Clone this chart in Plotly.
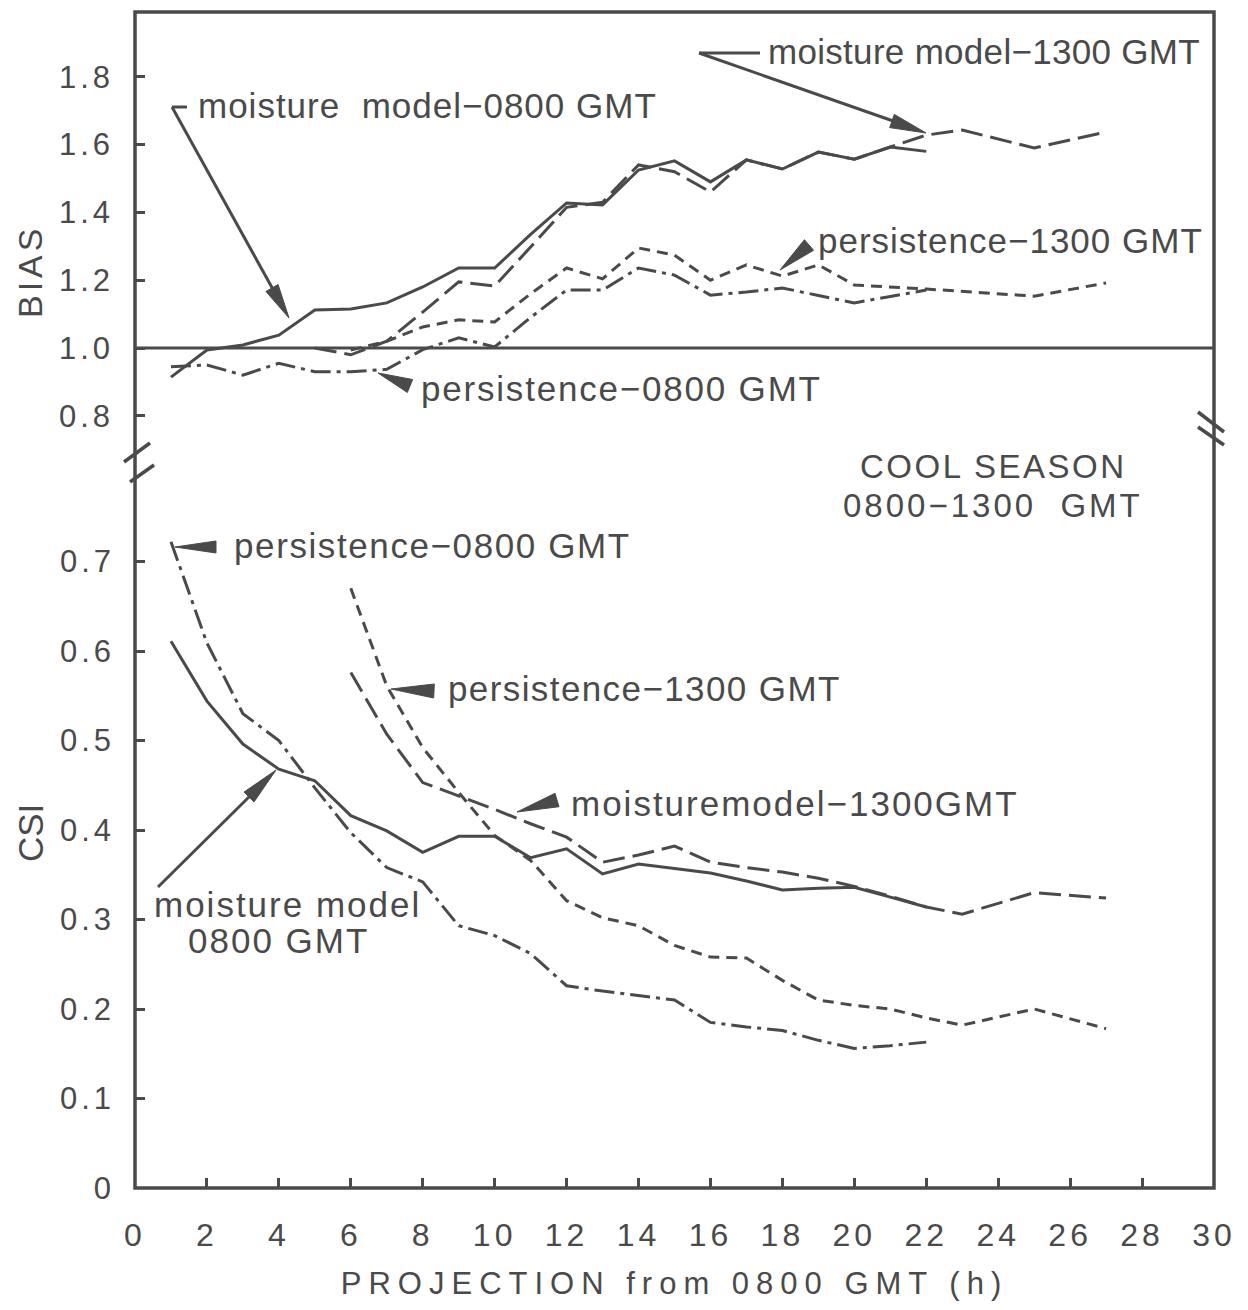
import math
import plotly.graph_objects as go

# ---------------- data ----------------
# BIAS panel
bias_hours_mm08 = list(range(1, 23))
bias_mm08 = [0.914, 0.994, 1.009, 1.038, 1.112, 1.115, 1.133, 1.180, 1.236, 1.236, 1.335,
             1.428, 1.422, 1.525, 1.552, 1.490, 1.555, 1.528, 1.578, 1.557, 1.593, 1.580]

bias_hours_mm13 = list(range(5, 24)) + [25, 27]
bias_mm13 = [1.000, 0.980, 1.020, 1.106, 1.195, 1.183, 1.298, 1.415, 1.430, 1.540, 1.520,
             1.460, 1.555, 1.528, 1.578, 1.557, 1.593, 1.628, 1.643, 1.590, 1.637]

bias_hours_p13 = list(range(6, 23)) + [25, 27]
bias_p13 = [0.994, 1.020, 1.062, 1.083, 1.077, 1.160, 1.236, 1.204, 1.295, 1.274, 1.200,
            1.245, 1.212, 1.245, 1.186, 1.180, 1.174, 1.153, 1.192]

bias_hours_p08 = list(range(1, 23))
bias_p08 = [0.945, 0.950, 0.920, 0.955, 0.930, 0.930, 0.937, 0.995, 1.030, 1.003, 1.090,
            1.171, 1.171, 1.236, 1.215, 1.156, 1.165, 1.177, 1.155, 1.133, 1.152, 1.171]

# CSI panel
csi_hours_mm08 = list(range(1, 23))
csi_mm08 = [0.611, 0.544, 0.496, 0.468, 0.455, 0.416, 0.399, 0.375, 0.393, 0.393, 0.369,
            0.379, 0.351, 0.362, 0.357, 0.352, 0.343, 0.333, 0.335, 0.336, 0.325, 0.314]

csi_hours_mm13 = list(range(6, 24)) + [25, 27]
csi_mm13 = [0.576, 0.507, 0.453, 0.438, 0.423, 0.407, 0.392, 0.364, 0.372, 0.382, 0.364,
            0.358, 0.353, 0.346, 0.337, 0.326, 0.314, 0.306, 0.330, 0.324]

csi_hours_p13 = list(range(6, 24)) + [25, 27]
csi_p13 = [0.670, 0.561, 0.492, 0.442, 0.394, 0.366, 0.321, 0.302, 0.293, 0.271, 0.258,
           0.257, 0.232, 0.210, 0.204, 0.200, 0.190, 0.182, 0.200, 0.178]

csi_hours_p08 = list(range(1, 23))
csi_p08 = [0.722, 0.609, 0.530, 0.500, 0.447, 0.397, 0.358, 0.342, 0.293, 0.282, 0.262,
           0.226, 0.220, 0.215, 0.210, 0.185, 0.180, 0.176, 0.165, 0.156, 0.159, 0.163]

x_ticks = list(range(0, 31, 2))
csi_ticks = [0, 0.1, 0.2, 0.3, 0.4, 0.5, 0.6, 0.7]
csi_ticklabels = ["0", "0.1", "0.2", "0.3", "0.4", "0.5", "0.6", "0.7"]
bias_ticks = [0.8, 1.0, 1.2, 1.4, 1.6, 1.8]
bias_ticklabels = ["0.8", "1.0", "1.2", "1.4", "1.6", "1.8"]

# ---------------- style / geometry ----------------
W, H = 1248, 1310
L, R, T, B = 135, 1214, 12, 1188      # plot box in pixels
SPLIT = 440                            # pixel row where the two panels meet
INK = "#4a4a4a"
FONT = "Liberation Sans, Arial, sans-serif"
LW = 3

split_frac = (B - SPLIT) / (B - T)


def P(px, py):
    """pixel -> paper coordinates (for decorations only)"""
    return (px - L) / (R - L), (B - py) / (B - T)


def sp(txt, ls):
    return f'<span style="letter-spacing:{ls}px">{txt}</span>'


fig = go.Figure()

styles = {
    "mm08": dict(color=INK, width=LW, dash="solid"),
    "mm13": dict(color=INK, width=LW, dash="22px,8px"),
    "p13": dict(color=INK, width=LW, dash="11px,7px"),
    "p08": dict(color=INK, width=LW, dash="20px,6px,4px,6px"),
}

for xs, ys, key, name in [
    (bias_hours_mm08, bias_mm08, "mm08", "moisture model-0800 GMT"),
    (bias_hours_mm13, bias_mm13, "mm13", "moisture model-1300 GMT"),
    (bias_hours_p13, bias_p13, "p13", "persistence-1300 GMT"),
    (bias_hours_p08, bias_p08, "p08", "persistence-0800 GMT"),
]:
    fig.add_trace(go.Scatter(x=xs, y=ys, mode="lines", line=styles[key], name=name,
                             xaxis="x", yaxis="y2", showlegend=False))

for xs, ys, key, name in [
    (csi_hours_mm08, csi_mm08, "mm08", "moisture model 0800 GMT"),
    (csi_hours_mm13, csi_mm13, "mm13", "moisture model-1300 GMT"),
    (csi_hours_p13, csi_p13, "p13", "persistence-1300 GMT"),
    (csi_hours_p08, csi_p08, "p08", "persistence-0800 GMT"),
]:
    fig.add_trace(go.Scatter(x=xs, y=ys, mode="lines", line=styles[key], name=name,
                             xaxis="x", yaxis="y", showlegend=False))

# axis ranges mapped from the reference pixel scale
csi_px_per_unit = 895.0
bias_px_per_unit = 339.0
bias_one_px = 348
csi_range = [0, (B - SPLIT) / csi_px_per_unit]
bias_range = [1 - (SPLIT - bias_one_px) / bias_px_per_unit,
              1 + (bias_one_px - T) / bias_px_per_unit]

tickfont = dict(family=FONT, size=31, color=INK)

fig.update_layout(
    width=W, height=H,
    margin=dict(l=L, r=W - R, t=T, b=H - B, autoexpand=False),
    paper_bgcolor="white", plot_bgcolor="white",
    font=dict(family=FONT, color=INK),
    xaxis=dict(
        domain=[0, 1], range=[0, 30], anchor="y",
        tickmode="array", tickvals=x_ticks,
        ticktext=[sp(str(v), 4) for v in x_ticks],
        ticks="inside", ticklen=10, tickwidth=3, tickcolor=INK,
        showgrid=False, zeroline=False, showline=False,
        tickfont=dict(family=FONT, size=32, color=INK),
        ticklabelstandoff=25,
        title=dict(text=sp("PROJECTION from 0800 GMT (h)", 7),
                   font=dict(family=FONT, size=31, color=INK), standoff=20),
    ),
    yaxis=dict(
        domain=[0, split_frac], range=csi_range, anchor="x",
        tickmode="array", tickvals=csi_ticks,
        ticktext=[sp(t, 4) for t in csi_ticklabels],
        ticks="inside", ticklen=10, tickwidth=3, tickcolor=INK,
        showgrid=False, zeroline=False, showline=False,
        tickfont=tickfont, ticklabelstandoff=19,
    ),
    yaxis2=dict(
        domain=[split_frac, 1], range=bias_range, anchor="x",
        tickmode="array", tickvals=bias_ticks,
        ticktext=[sp(t, 4) for t in bias_ticklabels],
        ticks="inside", ticklen=10, tickwidth=3, tickcolor=INK,
        showgrid=False, zeroline=False, showline=False,
        tickfont=tickfont, ticklabelstandoff=20,
    ),
)

shapes = []
# frame
shapes.append(dict(type="rect", xref="paper", yref="paper", x0=0, x1=1, y0=0, y1=1,
                   line=dict(color=INK, width=3.5), layer="above"))
# BIAS = 1.0 reference line
shapes.append(dict(type="line", xref="paper", yref="y2", x0=0, x1=1, y0=1.0, y1=1.0,
                   line=dict(color=INK, width=3)))


def seg(p0, p1, w=3):
    a = P(*p0)
    b = P(*p1)
    shapes.append(dict(type="line", xref="paper", yref="paper", x0=a[0], y0=a[1],
                       x1=b[0], y1=b[1], line=dict(color=INK, width=w), layer="above"))


def wedge(tip, base, hw=7):
    tx, ty = tip
    bx, by = base
    dx, dy = tx - bx, ty - by
    ln = math.hypot(dx, dy)
    nx, ny = -dy / ln, dx / ln
    pts = [(tx, ty), (bx + nx * hw, by + ny * hw), (bx - nx * hw, by - ny * hw)]
    pp = [P(*q) for q in pts]
    path = "M {:.5f},{:.5f} L {:.5f},{:.5f} L {:.5f},{:.5f} Z".format(
        pp[0][0], pp[0][1], pp[1][0], pp[1][1], pp[2][0], pp[2][1])
    shapes.append(dict(type="path", xref="paper", yref="paper", path=path,
                       fillcolor=INK, line=dict(color=INK, width=1), layer="above"))


# --- top panel pointers ---
seg((172, 107), (187, 107))
seg((172, 107), (280, 302))
wedge((289, 318), (272, 288))

seg((699, 53), (760, 53))
seg((699, 53), (896, 122))
wedge((926, 133), (892, 121))

wedge((780, 270), (809, 245))
wedge((378, 373), (410, 386))

# --- bottom panel pointers ---
wedge((175, 547), (216, 547), hw=6)
wedge((391, 689), (434, 691))
wedge((517, 812), (557, 800))
seg((158, 887), (252, 794))
wedge((276, 770), (249, 797))

# axis-break marks
seg((124, 462), (150, 443), w=3.5)
seg((130, 482), (154, 465), w=3.5)
seg((1198, 412), (1224, 432), w=3.5)
seg((1198, 427), (1224, 445), w=3.5)

fig.update_layout(shapes=shapes)

ann = []


def label(text, px, py, size=35, xanchor="left", angle=0, ls=0):
    x, y = P(px, py)
    if ls:
        text = sp(text, ls)
    ann.append(dict(text=text, x=x, y=y, xref="paper", yref="paper", showarrow=False,
                    xanchor=xanchor, yanchor="middle", textangle=angle,
                    font=dict(family=FONT, size=size, color=INK)))


label("moisture\u00a0 model\u22120800 GMT", 196, 105, ls=1)
label("moisture model\u22121300 GMT", 766, 51, ls=0.3)
label("persistence\u22121300 GMT", 816, 240, ls=1)
label("persistence\u22120800 GMT", 419, 388, ls=1.8)
label("COOL SEASON", 993, 467, size=33, xanchor="center", ls=2.5)
label("0800\u22121300\u00a0 GMT", 993, 506, size=33, xanchor="center", ls=3)
label("persistence\u22120800 GMT", 232, 545, ls=1.6)
label("persistence\u22121300 GMT", 446, 688, ls=1.4)
label("moisturemodel\u22121300GMT", 569, 803, ls=2)
label("moisture model", 152, 904, ls=2)
label("0800 GMT", 186, 940, ls=2)

# y-axis titles
label("BIAS", 30, 272, size=34, xanchor="center", angle=-90, ls=4)
label("CSI", 30, 833, size=35, xanchor="center", angle=-90)

fig.update_layout(annotations=ann)

fig.write_html("out.html")
